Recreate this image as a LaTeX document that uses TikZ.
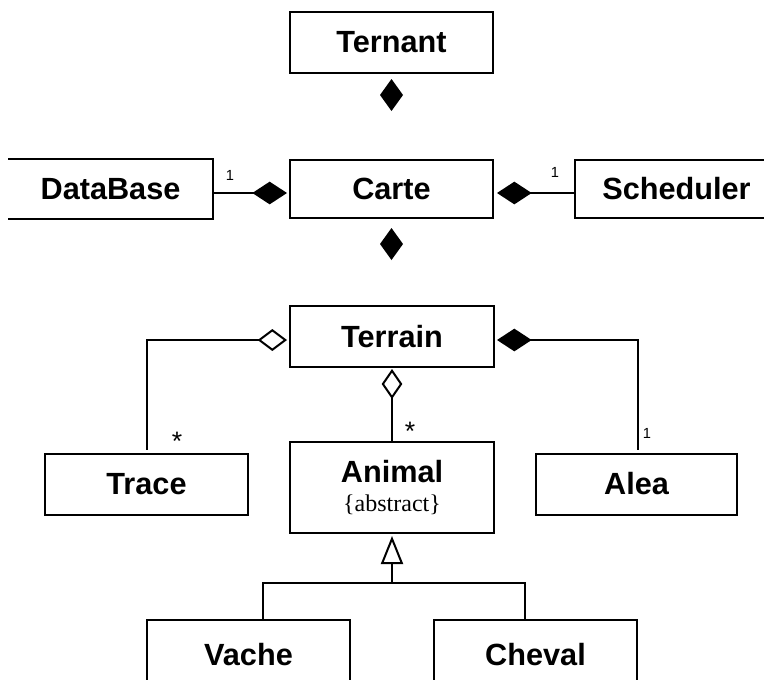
\documentclass[tikz,border=0pt]{standalone}
\usepackage{fontspec}
\setmainfont{Liberation Sans}
\newfontfamily\serifx{Liberation Serif}
\usetikzlibrary{arrows.meta,calc}
\begin{document}
\begin{tikzpicture}[x=0.75pt,y=-0.75pt,
  cls/.style={draw,line width=1.5pt,minimum width=152.25pt,minimum height=45.75pt,
    inner sep=0pt,font=\fontsize{23}{24}\selectfont\bfseries},
  clsopen/.style={cls,draw=none},
  conn/.style={line width=1.5pt},
  mult/.style={font=\fontsize{11}{12}\selectfont,inner sep=0pt},
  star/.style={mult,font=\fontsize{20}{20}\selectfont},
  fdia/.tip={Diamond[length=26pt,width=17pt]},
  odia/.tip={Diamond[open,length=22pt,width=16.5pt,fill=white]},
  vdia/.tip={Diamond[open,length=22.5pt,width=15.5pt,fill=white]},
  tri/.tip={Triangle[open,length=21pt,width=16.5pt,fill=white]}]
\useasboundingbox (0,0) rectangle (764,679);
\clip (0,0) rectangle (764,679);
% classes
\node[cls] (ternant) at (391.5,42.5) {Ternant};
\node[cls,minimum height=43.5pt] (carte) at (391.5,189) {Carte};
\node[clsopen,minimum height=43.5pt] (db) at (110.5,189) {DataBase};
\draw[line width=1.5pt] (db.north west) -- (db.north east) -- (db.south east) -- (db.south west);
\node[cls,minimum height=43.5pt] (sched) at (676.5,189) {Scheduler};
\node[cls,minimum width=153pt] (terrain) at (392,336.5) {Terrain};
\node[cls] (trace) at (146.5,484) {Trace};
\node[cls,minimum width=153pt,minimum height=68.25pt,align=center] (animal) at (392,487.5)
  {Animal\\[-2pt]{\serifx\mdseries\fontsize{18}{20}\selectfont\{abstract\}}};
\node[cls,minimum width=150.75pt] (alea) at (636.5,484) {Alea};
\node[cls,minimum height=52.5pt] (vache) at (248.5,654.5) {Vache};
\node[cls,minimum height=52.5pt] (cheval) at (535.5,654.5) {Cheval};
% composition diamonds without lines
\fill ($(ternant.south)+(0,5)$) -- ++(11.5,16) -- ++(-11.5,16) -- ++(-11.5,-16) -- cycle;
\fill ($(carte.south)+(0,9)$) -- ++(11.5,16) -- ++(-11.5,16) -- ++(-11.5,-16) -- cycle;
% connectors
\draw[conn,-{fdia}] ($(db.east)+(0,4)$) -- ($(carte.west)+(-2,4)$);
\draw[conn,-{fdia}] ($(sched.west)+(0,4)$) -- ($(carte.east)+(3,4)$);
\draw[conn,{odia}-] ($(terrain.west)+(-2,3.5)$) -| ($(trace.north)+(0.5,-3)$);
\draw[conn,{fdia}-] ($(terrain.east)+(2,3.5)$) -| ($(alea.north)+(1.5,-3)$);
\draw[conn,{vdia}-] ($(terrain.south)+(0,1)$) -- (animal.north);
\coordinate (gen) at ($(animal.south)+(0,49)$);
\draw[conn,{tri}-] ($(animal.south)+(0,2)$) -- (gen);
\draw[conn] ($(vache.north)+(14.5,0)$) |- (gen) -| ($(cheval.north)+(-10.5,0)$);
% multiplicities
\node[mult] (m1) at (230,175) {1};
\node[mult] (m2) at (555,172) {1};
\node[mult] (m3) at (647,433) {1};
\node[star] (m4) at (177,441) {*};
\node[star] (m5) at (410,431) {*};
\end{tikzpicture}
\end{document}
